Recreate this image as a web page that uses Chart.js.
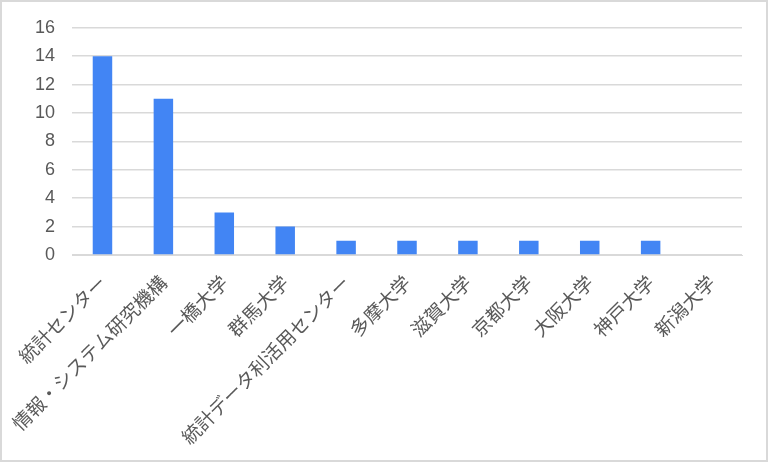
<!DOCTYPE html>
<html>
<head>
<meta charset="utf-8">
<script src="https://cdn.jsdelivr.net/npm/chart.js@4"></script>
<style>
  html, body { margin: 0; padding: 0; background: #fff; }
  #wrap { position: relative; width: 768px; height: 462px; }
  #frame { position: absolute; left: 0; top: 0; width: 768px; height: 462px;
           box-sizing: border-box; border: 2px solid #d9d9d9; pointer-events: none; }
</style>
</head>
<body>
<div id="wrap">
  <canvas id="barChart" width="768" height="462"></canvas>
  <div id="frame"></div>
</div>
<script>
// chart data
const categories = ['統計センター', '情報・システム研究機構', '一橋大学', '群馬大学', '統計データ利活用センター',
    '多摩大学', '滋賀大学', '京都大学', '大阪大学', '神戸大学', '新潟大学'];
const counts = [14, 11, 3, 2, 1, 1, 1, 1, 1, 1, 0];
const yTicks = [0, 2, 4, 6, 8, 10, 12, 14, 16];

const ctx = document.getElementById('barChart').getContext('2d');
new Chart(ctx, {
    type: 'bar',
    data: {
        labels: categories,
        datasets: [{
            data: counts,
            backgroundColor: '#4285f4',
            borderWidth: 0,
            barPercentage: 1,
            categoryPercentage: 0.32
        }]
    },
    options: {
        responsive: false,
        animation: false,
        layout: { padding: { top: 20, right: 26, bottom: 0, left: 18 } },
        plugins: {
            legend: { display: false },
            tooltip: { enabled: false }
        },
        scales: {
            x: {
                // the long rotated labels get a fixed band under the plot
                afterFit: scale => { scale.height = 207; },
                grid: { display: false, drawTicks: false },
                border: { color: '#d9d9d9', width: 1 },
                ticks: {
                    color: '#595959',
                    minRotation: 45,
                    maxRotation: 45,
                    padding: 16,
                    autoSkip: false,
                    font: { family: '"Noto Sans CJK JP", "Noto Sans", sans-serif', size: 19 }
                }
            },
            y: {
                min: yTicks[0],
                max: yTicks[yTicks.length - 1],
                afterBuildTicks: axis => { axis.ticks = yTicks.map(v => ({ value: v })); },
                grid: { color: '#d9d9d9', lineWidth: 1.5, drawTicks: false },
                border: { display: false },
                ticks: {
                    color: '#595959',
                    padding: 17,
                    font: { family: 'Arial, "Liberation Sans", sans-serif', size: 18 }
                }
            }
        }
    }
});
</script>
</body>
</html>
